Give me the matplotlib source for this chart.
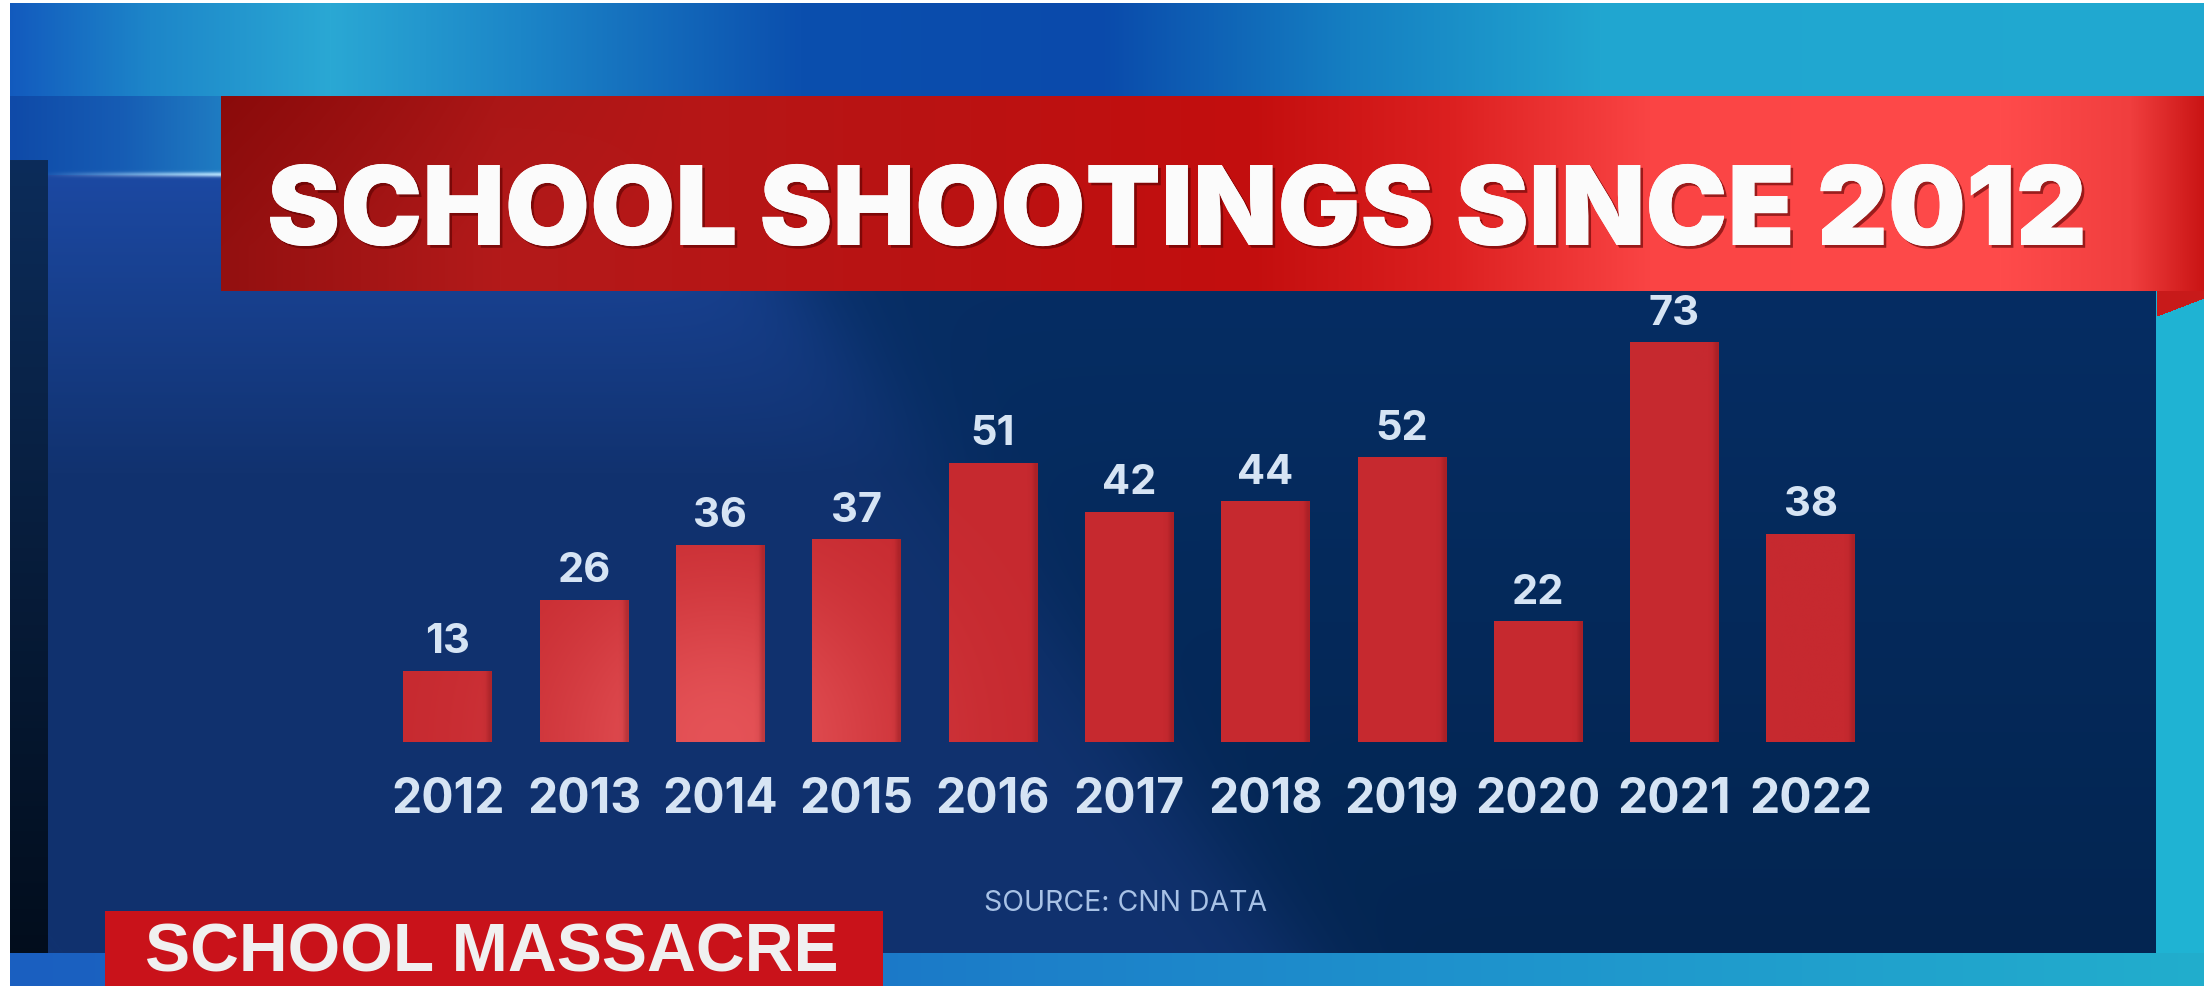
import numpy as np
import matplotlib
matplotlib.use("Agg")
import matplotlib.pyplot as plt
from matplotlib.colors import to_rgb
import matplotlib.patheffects as pe

# ---------------- data ----------------
years = ['2012', '2013', '2014', '2015', '2016', '2017', '2018', '2019', '2020', '2021', '2022']
counts = [13, 26, 36, 37, 51, 42, 44, 52, 22, 73, 38]
title = "SCHOOL SHOOTINGS SINCE 2012"
source = "SOURCE: CNN DATA"
lower_third = "SCHOOL MASSACRE"

W, H = 2204, 986
fig = plt.figure(figsize=(W / 100, H / 100), dpi=100)

# ---------------- background (decoration) ----------------
yy, xx = np.mgrid[0:H, 0:W].astype(float)


def xgrad(stops, n=W):
    xs = np.array([s[0] for s in stops], float)
    cols = np.array([to_rgb(s[1]) for s in stops])
    xi = np.arange(n, dtype=float)
    return np.stack([np.interp(xi, xs, cols[:, k]) for k in range(3)], axis=-1)


def mix(a, b, t):
    t = np.clip(t, 0, 1)[..., None]
    return a * (1 - t) + b * t


def full(c):
    return np.broadcast_to(np.array(to_rgb(c)), (H, W, 3))


img = np.zeros((H, W, 3))
top = xgrad([(0, '#1257bd'), (150, '#1d86c9'), (330, '#2aa8d4'), (520, '#1c86c8'),
             (800, '#0b4fae'), (1100, '#0a4aab'), (1350, '#157fc2'), (1600, '#21a6d0'),
             (2204, '#20a9d0')])
img[:] = top[None, :, :]

# left area under the top band
left_area = xgrad([(10, '#0f4aa8'), (120, '#165cb4'), (221, '#1f7cc2'), (400, '#1f7cc2')])
m = (yy >= 96) & (yy < 175)
img[m] = left_area[None, :, :].repeat(H, 0)[m]

# panel
ptop = np.clip((yy - 173) / 300.0, 0, 1)
left_col = mix(full('#1c49a3'), full('#11326f'), ptop)
right_col = mix(full('#062d63'), full('#032551'), (yy - 291) / 660.0)
xb = 800 + (yy - 291) * 0.75
tdiag = 1 / (1 + np.exp(-(xx - xb) / 35.0))
panel = mix(left_col, right_col, tdiag)
m = (xx >= 48) & (xx < 2156) & (yy >= 175) & (yy < 953)
img[m] = panel[m]

# light streak on panel top edge
streak = np.exp(-((yy - 174) / 2.5) ** 2) * np.clip((xx - 40) / 180.0, 0, 1) * (xx < 225)
img = mix(img, full('#bfe6ff'), streak * 0.9)

# dark left strip
strip = mix(full('#0c2c5a'), full('#020d1c'), (yy - 160) / 800.0)
m = (xx >= 10) & (xx < 48) & (yy >= 160) & (yy < 965)
img[m] = strip[m]

# right cyan area
m = (xx >= 2156) & (yy >= 291)
img[m] = to_rgb('#1fb3d3')

# bottom strip
bot = xgrad([(10, '#1a5fc0'), (600, '#1a6dc6'), (1400, '#1e90cc'), (2204, '#22aecd')])
m = (yy >= 953) & (xx >= 10)
img[m] = bot[None, :, :].repeat(H, 0)[m]

# red title banner
ban = xgrad([(221, '#931010'), (500, '#b31a1a'), (900, '#b91313'), (1250, '#c30e0e'),
             (1450, '#dc2020'), (1650, '#fa4444'), (2000, '#ff4b4b'), (2130, '#f03e3e'),
             (2204, '#c91414')])
ban_img = ban[None, :, :].repeat(H, 0)
shade = np.clip((150 - (yy - 96)) / 150.0, 0, 1) * np.clip((700 - xx) / 480.0, 0, 1) * 0.35
ban_img = mix(ban_img, full('#7a0000'), shade)
m = (xx >= 221) & (yy >= 96) & (yy < 291)
img[m] = ban_img[m]
# fold triangle
m = (xx >= 2157) & (yy >= 291) & (yy < 316 - (xx - 2157) * 18 / 47.0)
img[m] = to_rgb('#c81a1a')

# lower-third red box
m = (xx >= 105) & (xx < 883) & (yy >= 911)
img[m] = to_rgb('#c9121a')

# white borders
img[:, :10] = 1.0
img[:3, :] = 1.0

bg = fig.add_axes([0, 0, 1, 1])
bg.imshow(img, extent=(0, W, H, 0), aspect='auto', interpolation='bilinear', zorder=0)
bg.set_xlim(0, W)
bg.set_ylim(H, 0)
bg.axis('off')

renderer = fig.canvas.get_renderer()


def fit_text(ax, x, y, s, width_px, **kw):
    t = ax.text(x, y, s, fontsize=50, **kw)
    w = t.get_window_extent(renderer).width
    t.set_fontsize(50 * width_px / w)
    return t


fit_text(bg, 267, 245, title, 1820, color='#fbfbfb', family=['Inter', 'DejaVu Sans'],
         weight='black', ha='left', va='baseline', zorder=5,
         path_effects=[pe.withSimplePatchShadow(offset=(2, -2), shadow_rgbFace='#5a0000', alpha=0.6),
                       pe.Normal()])
fit_text(bg, 1126, 911, source, 283, color='#a8c2e6', family=['Inter', 'DejaVu Sans'],
         weight='normal', ha='center', va='baseline', zorder=5)
fit_text(bg, 145, 971, lower_third, 694, color='#f0f0f0', family=['Liberation Sans', 'DejaVu Sans'],
         weight='bold', ha='left', va='baseline', zorder=5)

# ---------------- chart ----------------
spacing = 136.3
center0 = 447.7
ax_left = (center0 - 0.5 * spacing) / W
ax_w = len(years) * spacing / W
ax_bottom = (H - 742) / H
ymax = 80
ax_h = ymax * 5.48 / H
ax = fig.add_axes([ax_left, ax_bottom, ax_w, ax_h])
ax.set_facecolor('none')
x = np.arange(len(years))
bars = ax.bar(x, counts, width=0.65, color='#c6292f', zorder=2)

# soft lighting inside the bars
base = np.array(to_rgb('#c6292f'))
light = np.array(to_rgb('#ea5a5e'))
for i, b in enumerate(bars):
    bx0, bx1 = b.get_x(), b.get_x() + b.get_width()
    h = b.get_height()
    ny, nx = 60, 20
    gy = np.linspace(h, 0, ny)[:, None]
    gx = np.linspace(bx0, bx1, nx)[None, :]
    f = np.exp(-(((gx - 2.0) / 1.3) ** 2) - ((gy / 30.0) ** 2)) * 0.85
    edge = np.clip((gx - (bx1 - 0.04)) / 0.04, 0, 1) * 0.35
    arr = base[None, None, :] * (1 - f[..., None]) + light[None, None, :] * f[..., None]
    arr = arr * (1 - edge[..., None]) + np.array(to_rgb('#7a1218'))[None, None, :] * edge[..., None]
    im = ax.imshow(arr, extent=(bx0, bx1, 0, h), aspect='auto', interpolation='bilinear', zorder=3)
    im.set_clip_path(b)

for xi, v in zip(x, counts):
    ax.annotate(str(v), (xi, v), xytext=(0, 12.5), textcoords='offset points',
                ha='center', va='baseline', fontsize=30, weight='bold',
                family=['Inter', 'DejaVu Sans'], color='#d6e4f4', zorder=4)

ax.set_xticks(x, years, va='baseline', fontsize=34.5, weight='bold',
              family=['Inter', 'DejaVu Sans'], color='#d6e4f4')
ax.tick_params(axis='x', length=0, pad=51)
ax.set_yticks([])
ax.set_xlim(-0.5, len(years) - 0.5)
ax.set_ylim(0, ymax)
for s in ax.spines.values():
    s.set_visible(False)

fig.savefig('out.png', dpi=100)
